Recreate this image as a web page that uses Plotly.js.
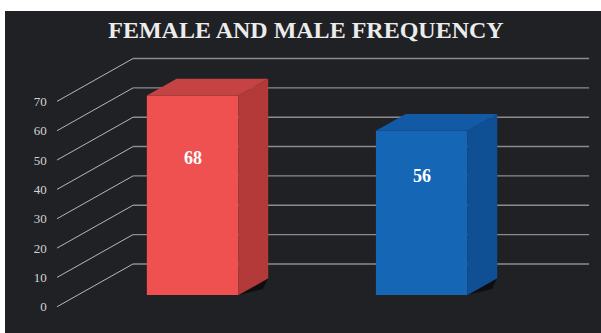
<!DOCTYPE html>
<html>
<head>
<meta charset="utf-8">
<script src="https://cdn.plot.ly/plotly-3.0.1.min.js"></script>
<style>html,body{margin:0;padding:0;background:#fff;}#chart{width:601px;height:333px;}</style>
</head>
<body>
<div id="chart"></div>
<script>
// ---- data ----
const categories = ['Female', 'Male'];
const values = [68, 56];
const frontColors = ['#EE5150', '#1666B6'];
const sideColors = ['#B43A3A', '#0F4F93'];
const topColors = ['#C64343', '#1259A6'];
const yTicks = [0, 10, 20, 30, 40, 50, 60, 70];
const chartTitle = 'FEMALE AND MALE FREQUENCY';

// ---- pseudo-3D geometry (in axis units) ----
const DEPTH_X = 0.332;   // x shift for full depth
const DEPTH_Y = 14.6;    // y shift for full depth
const BAR_FRONT = 0.272; // depth of bar front face
const BAR_BACK = 0.663;  // depth of bar back face
const BAR_W = 0.4;
const GRID_X0 = -0.502, GRID_X1 = 1.821;
const X_RANGE = [-0.729, 1.873];
const Y_RANGE = [-8.94, 100.8];

function proj(x, y, d) { return [x + d * DEPTH_X, y + d * DEPTH_Y]; }

const traces = [];

// diagonal connectors from labels to back wall
const dx = [], dy = [];
yTicks.forEach(v => {
  const a = proj(GRID_X0, v, 0), b = proj(GRID_X0, v, 1);
  dx.push(a[0], b[0], null); dy.push(a[1], b[1], null);
});
traces.push({type: 'scatter', mode: 'lines', x: dx, y: dy, xaxis: 'x', yaxis: 'y',
  line: {color: '#b8b8b8', width: 1}, hoverinfo: 'skip', showlegend: false});

// back wall gridlines
const gx = [], gy = [];
yTicks.forEach(v => {
  const a = proj(GRID_X0, v, 1);
  const b = [GRID_X1, a[1]];
  gx.push(a[0], b[0], null); gy.push(a[1], b[1], null);
});
traces.push({type: 'scatter', mode: 'lines', x: gx, y: gy, xaxis: 'x', yaxis: 'y',
  line: {color: '#8c8c8c', width: 1.4}, hoverinfo: 'skip', showlegend: false});

// bars: side and top faces, then front faces
const base = BAR_FRONT * DEPTH_Y;
categories.forEach((c, i) => {
  const v = values[i];
  const xl = i - BAR_W / 2, xr = i + BAR_W / 2;
  // shadow on floor
  const s1 = proj(xr, 0, BAR_FRONT), s2 = proj(xr, 0, BAR_BACK);
  const s3 = proj(xr + 0.06, 0, BAR_BACK - 0.25);
  traces.push({type: 'scatter', mode: 'lines', x: [s1[0], s2[0], s3[0], s1[0]], y: [s1[1], s2[1], s3[1], s1[1]],
    fill: 'toself', fillcolor: 'rgba(0,0,0,0.55)', line: {width: 0}, xaxis: 'x2', yaxis: 'y2',
    hoverinfo: 'skip', showlegend: false});
  // side face
  const p = [proj(xr, 0, BAR_FRONT), proj(xr, 0, BAR_BACK), proj(xr, v, BAR_BACK), proj(xr, v, BAR_FRONT)];
  traces.push({type: 'scatter', mode: 'lines', x: p.map(q => q[0]).concat(p[0][0]), y: p.map(q => q[1]).concat(p[0][1]),
    fill: 'toself', fillcolor: sideColors[i], line: {width: 0}, xaxis: 'x2', yaxis: 'y2',
    hoverinfo: 'skip', showlegend: false});
  // top face
  const t = [proj(xl, v, BAR_FRONT), proj(xr, v, BAR_FRONT), proj(xr, v, BAR_BACK), proj(xl, v, BAR_BACK)];
  traces.push({type: 'scatter', mode: 'lines', x: t.map(q => q[0]).concat(t[0][0]), y: t.map(q => q[1]).concat(t[0][1]),
    fill: 'toself', fillcolor: topColors[i], line: {width: 0}, xaxis: 'x2', yaxis: 'y2',
    hoverinfo: 'skip', showlegend: false});
});

traces.push({type: 'bar', x: categories.map((c, i) => i + BAR_FRONT * DEPTH_X), y: values,
  base: values.map(() => base), width: BAR_W, marker: {color: frontColors, line: {width: 0}},
  text: categories, hoverinfo: 'text+y', textposition: 'none', xaxis: 'x2', yaxis: 'y2', showlegend: false});

const annotations = categories.map((c, i) => ({
  xref: 'x2', yref: 'y2', x: i + BAR_FRONT * DEPTH_X, y: base + values[i] / 2, yshift: 37,
  text: String(values[i]), showarrow: false,
  font: {family: 'Liberation Serif, DejaVu Serif, serif', size: 18, color: '#ffffff', weight: 'bold'}
}));

const layout = {
  width: 601, height: 333,
  margin: {l: 5, r: 0, t: 11, b: 0, pad: 0},
  paper_bgcolor: '#ffffff',
  plot_bgcolor: '#202124',
  showlegend: false,
  title: {text: chartTitle, x: 0.505, xref: 'paper', y: 1 - 30 / 333, yref: 'container', yanchor: 'middle',
    font: {family: 'Liberation Serif, DejaVu Serif, serif', size: 24, color: '#ececec', weight: 'bold'}},
  xaxis: {range: X_RANGE, showgrid: false, zeroline: false, showticklabels: false, showline: false, fixedrange: true},
  yaxis: {range: Y_RANGE, anchor: 'free', position: 0.07, side: 'left', tickvals: yTicks, ticks: '',
    showgrid: false, zeroline: false, showline: false,
    tickfont: {family: 'Liberation Serif, DejaVu Serif, serif', size: 13, color: '#d4d4d4'}},
  xaxis2: {range: X_RANGE, overlaying: 'x', showgrid: false, zeroline: false, showticklabels: false, showline: false},
  yaxis2: {range: Y_RANGE, overlaying: 'y', showgrid: false, zeroline: false, showticklabels: false, showline: false},
  annotations: annotations
};

Plotly.newPlot('chart', traces, layout, {displayModeBar: false, staticPlot: true});
</script>
</body>
</html>
